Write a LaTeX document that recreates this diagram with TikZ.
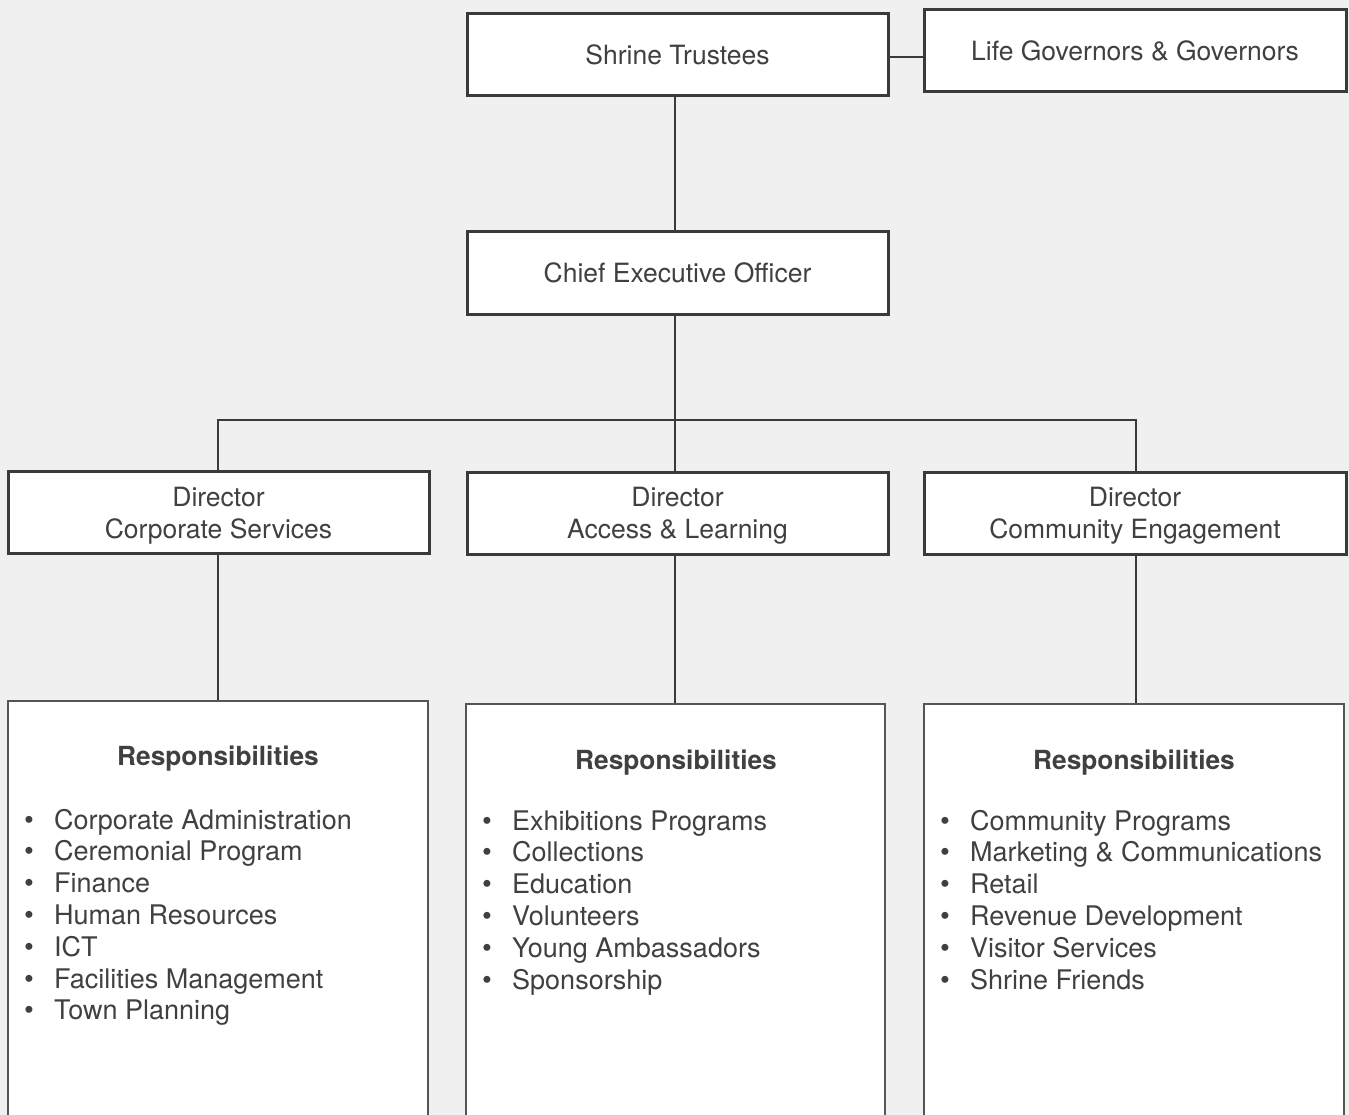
\documentclass[tikz,border=0pt]{standalone}
\usepackage{fontspec}
\setmainfont{TeX Gyre Heros}
\definecolor{bg}{HTML}{F0F0F0}
\definecolor{ln}{HTML}{3A3A3A}
\definecolor{ln2}{HTML}{555555}
\definecolor{txt}{HTML}{404040}
\tikzset{
  topbox/.style={draw=ln, line width=3pt, fill=white, minimum width=421pt, minimum height=82pt,
    inner sep=0pt, text=txt, font=\fontsize{26.5}{32}\selectfont, align=center},
  respbox/.style={draw=ln2, line width=2.2pt, fill=white, minimum width=420pt, minimum height=440pt,
    inner sep=0pt, anchor=north},
  conn/.style={draw=ln, line width=2pt},
  head/.style={anchor=base, text=txt, font=\fontsize{26.3}{30}\bfseries\selectfont, inner sep=0pt},
  item/.style={anchor=base west, text=txt, font=\fontsize{27}{30}\selectfont, inner sep=0pt},
  bul/.style={anchor=base, text=txt, font=\fontsize{28}{30}\selectfont, inner sep=0pt}
}
\newcommand{\dstrut}{\rule{0pt}{25pt}}
\begin{document}
\begin{tikzpicture}[x=1pt,y=-1pt]
\useasboundingbox[fill=bg] (0,0) rectangle (1349,1115);
\begin{scope}
\clip (0,0) rectangle (1349,1115);
% top level
\node[topbox] (st) at (677.5,55) {Shrine Trustees};
\node[topbox, minimum width=422pt] (lg) at (1135,51) {Life Governors \& Governors};
\node[topbox] (ceo) at (677.5,273) {Chief Executive Officer};
\node[topbox] (d1) at (218.5,512.5) {\dstrut Director\\Corporate Services};
\node[topbox] (d2) at (677.5,513) {\dstrut Director\\Access \& Learning};
\node[topbox, minimum width=422pt] (d3) at (1135,513) {\dstrut Director\\Community Engagement};
% responsibility boxes
\node[respbox] (r1) at (218,700) {};
\node[respbox, minimum width=419pt] (r2) at (675.5,703) {};
\node[respbox] (r3) at (1134,703) {};
% connectors
\coordinate (bus) at (675,420);
\draw[conn] ([yshift=-2pt]st.east) -- ([yshift=-2pt]st.east -| lg.west);
\draw[conn] ([xshift=-2.5pt]st.south) -- ([xshift=-2.5pt]ceo.north);
\draw[conn] ([xshift=-2.5pt]ceo.south) -- ([xshift=-2.5pt]d2.north);
\draw[conn] ([xshift=-0.5pt]d1.north) |- (bus) -| ([xshift=1pt]d3.north);
\draw[conn] ([xshift=-0.5pt]d1.south) -- (r1.north);
\draw[conn] ([xshift=-2.5pt]d2.south) -- ([xshift=-0.5pt]r2.north);
\draw[conn] ([xshift=1pt]d3.south) -- ([xshift=2pt]r3.north);
% headings
\node[head] (h1) at (218,765) {Responsibilities};
\node[head] (h2) at (676,769) {Responsibilities};
\node[head] (h3) at (1134,769) {Responsibilities};
% lists
\foreach \t [count=\i] in {Corporate Administration, Ceremonial Program, Finance, Human Resources, ICT, Facilities Management, Town Planning}{
  \node[bul] (b1\i) at (29,{829+31.8*(\i-1)}) {•};
  \node[item] (l1\i) at (54,{829+31.8*(\i-1)}) {\t};
}
\foreach \t [count=\i] in {Exhibitions Programs, Collections, Education, Volunteers, Young Ambassadors, Sponsorship}{
  \node[bul] (b2\i) at (487,{830+31.8*(\i-1)}) {•};
  \node[item] (l2\i) at (512,{830+31.8*(\i-1)}) {\t};
}
\foreach \t [count=\i] in {Community Programs, Marketing \& Communications, Retail, Revenue Development, Visitor Services, Shrine Friends}{
  \node[bul] (b3\i) at (945,{830+31.8*(\i-1)}) {•};
  \node[item] (l3\i) at (970,{830+31.8*(\i-1)}) {\t};
}
\end{scope}
\end{tikzpicture}
\end{document}
